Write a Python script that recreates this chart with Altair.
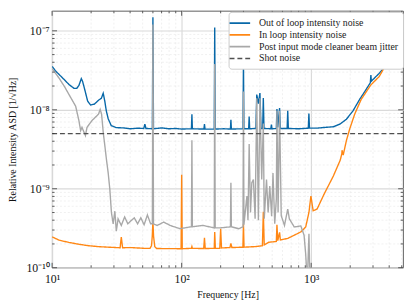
import altair as alt
import pandas as pd

FONT = "Liberation Serif"

# ---------------- data ----------------
blue_f = [10, 10.6, 11.35, 12.6, 13.5, 14.75, 15.5, 16.1, 16.8, 17.2, 17.85, 18.8, 19.8, 21.2, 22.8, 24.0,
          24.8, 25.5, 26.2, 27.1, 28.6, 31.2, 35.2, 40.4, 45.7, 51, 52, 53, 59.4, 60, 60.6, 70, 80, 90, 100,
          119, 120, 121, 148.5, 150, 151.5, 178.5, 180, 181.5, 210, 238, 240, 242, 297.5, 300, 302.5,
          329, 332, 335, 374, 380, 391, 402, 410, 422, 427, 432, 488, 493, 498, 538, 544, 552, 570, 577,
          652, 659, 666, 800, 950, 960, 970, 1100, 1300, 1485, 1668, 1871, 2102, 2363, 2650, 2860, 2890,
          2910, 3346, 3866, 4467, 5080, 5120]
blue_v = [3.55e-8, 3.12e-8, 2.79e-8, 2.35e-8, 2.09e-8, 1.87e-8, 1.87e-8, 2.03e-8, 2.48e-8, 2.28e-8, 1.81e-8,
          1.29e-8, 1.15e-8, 1.18e-8, 1.32e-8, 1.40e-8, 1.62e-8, 1.29e-8, 9.7e-9, 7.7e-9, 6.3e-9, 5.95e-9,
          5.9e-9, 5.75e-9, 5.85e-9, 5.8e-9, 6.6e-9, 5.8e-9, 5.75e-9, 1.49e-7, 5.75e-9, 5.9e-9, 5.75e-9,
          5.8e-9, 5.7e-9, 5.75e-9, 8.8e-9, 5.75e-9, 5.7e-9, 6.6e-9, 5.7e-9, 5.7e-9, 1.1e-7, 5.7e-9, 5.75e-9,
          5.7e-9, 7.5e-9, 5.7e-9, 5.75e-9, 4.2e-8, 5.75e-9, 5.75e-9, 8.2e-9, 5.75e-9, 5.8e-9, 1.56e-8,
          1.2e-8, 1.63e-8, 5.8e-9, 5.8e-9, 1.41e-8, 5.8e-9, 5.75e-9, 6.5e-9, 5.75e-9, 5.8e-9, 1.02e-8,
          6.0e-9, 1.05e-8, 5.8e-9, 5.8e-9, 9.7e-9, 5.8e-9, 5.75e-9, 5.85e-9, 9.0e-9, 5.85e-9, 5.85e-9,
          6.0e-9, 6.1e-9, 6.6e-9, 7.6e-9, 9.7e-9, 1.35e-8, 1.8e-8, 2.2e-8, 2.76e-8, 2.3e-8, 2.89e-8,
          3.85e-8, 4.24e-8, 4.98e-8, 5.0e-8]

orange_f = [10, 11.35, 13.5, 16.1, 19.1, 22.8, 27.1, 33.5, 34.2, 35, 40.6, 51.3, 57, 58.5, 59.3, 60, 60.7,
            62, 64, 99, 100, 101, 119, 120, 121, 148, 150, 152, 178.5, 180, 182, 197, 200, 203, 236, 240,
            244, 297, 300, 303, 369, 420, 427, 434, 470, 538, 544, 552, 570, 578, 659, 740, 832, 907, 961,
            995, 1035, 1110, 1247, 1485, 1677, 1725, 1730, 1767, 1871, 1986, 2166, 2429, 2730, 2891, 3346,
            3754, 4467, 5080, 5120]
orange_v = [2.46e-10, 2.23e-10, 2.09e-10, 1.98e-10, 1.90e-10, 1.85e-10, 1.82e-10, 1.79e-10, 2.45e-10,
            1.79e-10, 1.80e-10, 1.76e-10, 1.76e-10, 1.9e-10, 2.5e-10, 3.9e-10, 2.5e-10, 1.85e-10, 1.75e-10,
            1.74e-10, 1.5e-9, 1.74e-10, 1.76e-10, 1.85e-10, 1.76e-10, 1.75e-10, 2.39e-10, 1.75e-10,
            1.76e-10, 2.84e-10, 1.76e-10, 1.76e-10, 3.12e-10, 1.78e-10, 1.8e-10, 2.03e-10, 1.8e-10,
            1.82e-10, 3.6e-10, 1.82e-10, 1.85e-10, 1.9e-10, 5.1e-10, 1.95e-10, 2.1e-10, 2.15e-10, 3.5e-10,
            2.2e-10, 2.8e-10, 2.25e-10, 2.35e-10, 2.58e-10, 2.84e-10, 3.28e-10, 5.04e-10, 8.1e-10,
            5.27e-10, 5.53e-10, 8.3e-10, 1.46e-9, 2.31e-9, 2.8e-9, 3.08e-9, 2.67e-9, 4.1e-9, 5.77e-9,
            8.8e-9, 1.35e-8, 1.8e-8, 2.07e-8, 2.63e-8, 3.67e-8, 4.04e-8, 4.53e-8, 4.6e-8]

gray_f = [10, 11.35, 12.5, 13.5, 15.2, 16.1, 16.6, 17.0, 18.07, 18.6, 20.3, 22.8, 23.5, 24.1, 24.8, 25.6,
          26.3, 27.1, 27.9, 28.7, 29.6, 30.5, 31.3, 32.3, 34.2, 36.3, 38.4, 40.6, 43.1, 45.7, 48.4, 51.3,
          54.4, 57.6, 59.4, 60, 60.6, 64.7, 72.7, 81.6, 97, 115.6, 119, 120, 121, 146, 178.5, 180, 181.5,
          200, 232, 238, 240, 242, 276, 297.5, 300, 302.5, 319, 325, 332, 340, 348, 358, 369, 380, 391,
          402, 415, 427, 434, 452, 465, 479, 495, 507, 523, 538, 544, 555, 570, 587, 622, 659, 678, 740,
          832, 881, 907, 933, 961, 978, 1000]
gray_v = [3.33e-8, 2.5e-8, 1.95e-8, 1.56e-8, 1.11e-8, 7.3e-9, 5.45e-9, 6.0e-9, 4.72e-9, 6.0e-9, 7.3e-9,
          8.8e-9, 1.01e-8, 8.8e-9, 5.2e-9, 3.38e-9, 2.31e-9, 1.58e-9, 9.8e-10, 5.0e-10, 3.6e-10, 5.2e-10,
          2.9e-10, 4.16e-10, 3.43e-10, 4.4e-10, 3.6e-10, 3.93e-10, 4.28e-10, 3.6e-10, 4.28e-10, 3.5e-10,
          4.66e-10, 3.6e-10, 3.6e-10, 1.2e-7, 3.6e-10, 3.43e-10, 3.78e-10, 3.43e-10, 3.12e-10, 3.28e-10,
          3.3e-10, 4.1e-9, 3.3e-10, 3.43e-10, 3.2e-10, 3.8e-8, 3.2e-10, 3.2e-10, 3.28e-10, 3.3e-10,
          1.19e-9, 3.3e-10, 3.12e-10, 3.3e-10, 1.71e-8, 3.5e-10, 8.1e-10, 4.0e-10, 3.7e-9, 5.0e-10,
          1.19e-9, 1.31e-9, 4.16e-10, 1.4e-8, 4.0e-10, 1.4e-8, 1.31e-9, 6.7e-9, 4.16e-10, 1.31e-9, 5.0e-10,
          1.08e-9, 4.5e-10, 1.58e-9, 3.6e-10, 7.4e-10, 9.7e-9, 5.0e-10, 9.7e-9, 4.57e-10, 3.43e-10,
          5.53e-10, 4.16e-10, 3.28e-10, 3.38e-10, 2.58e-10, 1.48e-10, 6.5e-11, 2.7e-10, 6.5e-11, 5e-11]

shot_f = [10, 5120]
shot_v = [5e-9, 5e-9]

series_names = ["Out of loop intensity noise", "In loop intensity noise",
                "Post input mode cleaner beam jitter", "Shot noise"]
series_colors = ["#0868a8", "#ff8714", "#a8a8a8", "#505050"]
series_dash = [[1, 0], [1, 0], [1, 0], [5, 3]]

x_major = [10, 100, 1000]
x_minor = [20, 30, 40, 50, 60, 70, 80, 90, 200, 300, 400, 500, 600, 700, 800, 900, 2000, 3000, 4000, 5000]
y_major = [1e-10, 1e-9, 1e-8, 1e-7]
y_minor = [2e-10, 3e-10, 4e-10, 5e-10, 6e-10, 7e-10, 8e-10, 9e-10,
           2e-9, 3e-9, 4e-9, 5e-9, 6e-9, 7e-9, 8e-9, 9e-9,
           2e-8, 3e-8, 4e-8, 5e-8, 6e-8, 7e-8, 8e-8, 9e-8]

# ---------------- chart ----------------
W, H = 358, 262
xs = alt.Scale(type="log", domain=[10, 5120], nice=False)
ys = alt.Scale(type="log", domain=[1e-10, 1.79e-7], nice=False)
cs = alt.Scale(domain=series_names, range=series_colors)
ds = alt.Scale(domain=series_names, range=series_dash)

xaxis = alt.Axis(values=x_major, grid=True, gridColor="#dadada", gridWidth=1.2, ticks=False, domain=False,
                 labelExpr="'10' + (datum.value < 50 ? '¹' : datum.value < 500 ? '²' : '³')",
                 labelFlush=False, labelOverlap=False, labelFontSize=12, labelPadding=6,
                 title="Frequency [Hz]", titleFontSize=10, titlePadding=5)
yaxis = alt.Axis(values=y_major, grid=True, gridColor="#dadada", gridWidth=1.2, ticks=False, domain=False,
                 labelExpr="datum.value < 5e-10 ? '10⁻¹⁰' : datum.value < 5e-9 ? '10⁻⁹' : datum.value < 5e-8 ? '10⁻⁸' : '10⁻⁷'",
                 labelFlush=False, labelOverlap=False, labelFontSize=12, labelPadding=3,
                 title="Relative Intensity ASD [1/√Hz]", titleFontSize=10, titlePadding=9)

leg = alt.Legend(title=None, orient="none", legendX=180, legendY=1, symbolType="M-2,0H2",
                 symbolSize=110, symbolStrokeWidth=1.6, labelFont=FONT, labelFontSize=10,
                 labelColor="#222222", fillColor="white", strokeColor="#cccccc", cornerRadius=3,
                 padding=5, rowPadding=0, labelOffset=13)


def minor_grid_x():
    df = pd.DataFrame({"t": x_minor})
    return alt.Chart(df).mark_rule(color="#e6e6e6", strokeWidth=0.6, strokeDash=[2, 2]).encode(
        x=alt.X("t:Q", scale=xs, axis=xaxis), y=alt.value(0), y2=alt.value(H))


def minor_grid_y():
    df = pd.DataFrame({"t": y_minor})
    return alt.Chart(df).mark_rule(color="#e6e6e6", strokeWidth=0.6, strokeDash=[2, 2]).encode(
        y=alt.Y("t:Q", scale=ys, axis=yaxis), x=alt.value(0), x2=alt.value(W))


def ticks_x(vals, length, top):
    df = pd.DataFrame({"t": vals})
    if top:
        yy, yy2 = 0, length
    else:
        yy, yy2 = H, H - length
    return alt.Chart(df).mark_rule(color="#333333", strokeWidth=0.8).encode(
        x=alt.X("t:Q", scale=xs, axis=xaxis), y=alt.value(yy), y2=alt.value(yy2))


def ticks_y(vals, length, right):
    df = pd.DataFrame({"t": vals})
    if right:
        xx, xx2 = W, W - length
    else:
        xx, xx2 = 0, length
    return alt.Chart(df).mark_rule(color="#333333", strokeWidth=0.8).encode(
        y=alt.Y("t:Q", scale=ys, axis=yaxis), x=alt.value(xx), x2=alt.value(xx2))


def series(f, v, name, width):
    df = pd.DataFrame({"f": f, "v": v, "s": name})
    return alt.Chart(df).mark_line(clip=True, strokeWidth=width).encode(
        x=alt.X("f:Q", scale=xs, axis=xaxis),
        y=alt.Y("v:Q", scale=ys, axis=yaxis),
        color=alt.Color("s:N", scale=cs, legend=leg),
        strokeDash=alt.StrokeDash("s:N", scale=ds, legend=leg),
    )


chart = alt.layer(
    minor_grid_x(), minor_grid_y(),
    series(blue_f, blue_v, series_names[0], 1.4),
    series(orange_f, orange_v, series_names[1], 1.4),
    series(gray_f, gray_v, series_names[2], 1.4),
    series(shot_f, shot_v, series_names[3], 1.4),
    ticks_x(x_major, 5, False), ticks_x(x_minor, 2.5, False),
    ticks_x(x_major, 5, True), ticks_x(x_minor, 2.5, True),
    ticks_y(y_major, 5, False), ticks_y(y_minor, 2.5, False),
    ticks_y(y_major, 5, True), ticks_y(y_minor, 2.5, True),
).properties(
    width=W, height=H,
    autosize=alt.AutoSizeParams(type="none"),
    padding={"left": 45, "top": 0, "right": 4, "bottom": 30},
).configure_view(
    stroke="#333333", strokeWidth=0.8
).configure_axis(
    labelFont=FONT, titleFont=FONT, labelColor="#111111", titleColor="#111111", titleFontWeight="normal"
).configure_legend(
    labelFont=FONT
)

chart.save("out.html", embed_options={"renderer": "svg", "actions": False})
